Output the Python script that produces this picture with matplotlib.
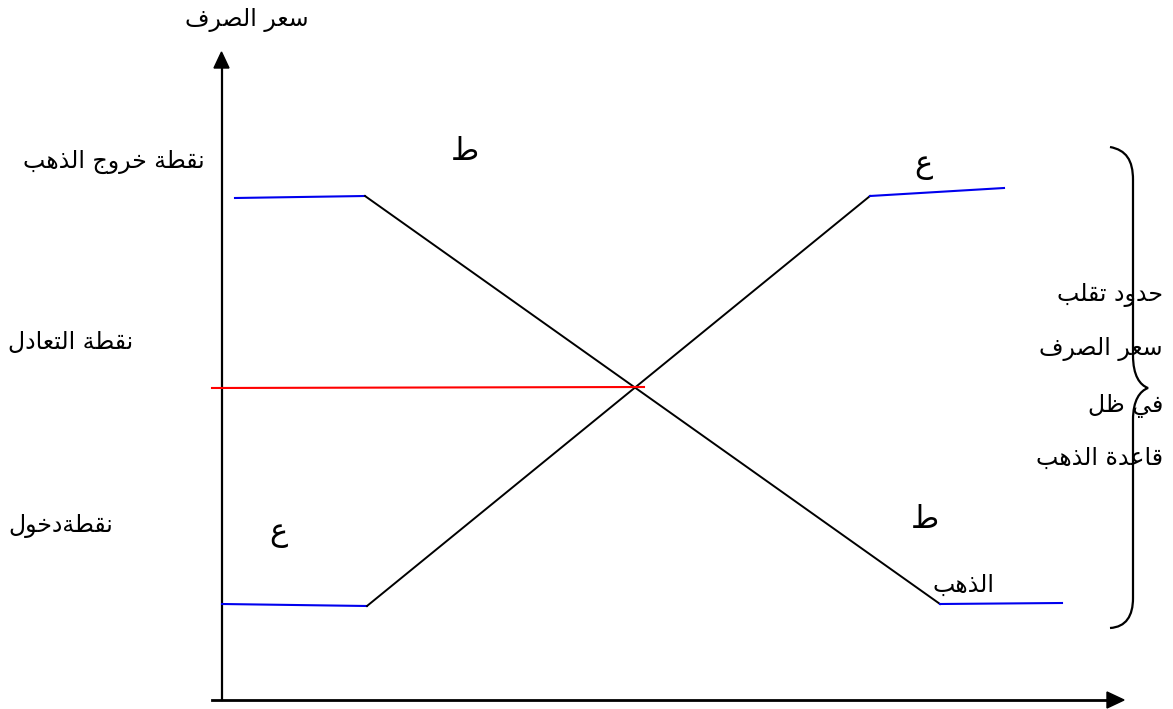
import matplotlib

matplotlib.use("Agg")
import matplotlib.pyplot as plt
from matplotlib.patches import Polygon, PathPatch
from matplotlib.path import Path

# ── diagram data (pixel space of the original sketch) ─────────────────────────
# demand curve "ط": flat (blue) - falling (black) - flat (blue)
demand_x = [235, 365, 940, 1062]
demand_y = [198, 196, 604, 603]
# supply curve "ع": flat (blue) - rising (black) - flat (blue)
supply_x = [222, 367, 870, 1004]
supply_y = [604, 606, 196, 188]
# parity line
parity_x = [212, 644]
parity_y = [388, 387]

y_label = "سعر الصرف"
left_labels = ["نقطة خروج الذهب", "نقطة التعادل", "نقطةدخول"]
left_label_x = [205, 133, 113]
left_label_y = [162, 342, 526]
brace_lines = ["حدود تقلب", "سعر الصرف", "في ظل", "قاعدة الذهب"]
brace_line_y = [295, 349, 406, 458]
curve_letters = ["ط", "ع", "ع", "ط"]
curve_letter_x = [465, 923, 278, 925]
curve_letter_y = [152, 166, 533, 520]
gold_word = "الذهب"

# ── tiny arabic shaper (matplotlib has no text shaping) ───────────────────────
# letter -> (isolated form code point, joins to the following letter)
JOIN = {
    "ا": (0xFE8D, False), "ب": (0xFE8F, True), "ة": (0xFE93, False),
    "ت": (0xFE95, True), "ج": (0xFE9D, True), "ح": (0xFEA1, True),
    "خ": (0xFEA5, True), "د": (0xFEA9, False), "ذ": (0xFEAB, False),
    "ر": (0xFEAD, False), "س": (0xFEB1, True), "ص": (0xFEB9, True),
    "ط": (0xFEC1, True), "ظ": (0xFEC5, True), "ع": (0xFEC9, True),
    "ف": (0xFED1, True), "ق": (0xFED5, True), "ل": (0xFEDD, True),
    "ن": (0xFEE5, True), "ه": (0xFEE9, True), "و": (0xFEED, False),
    "ي": (0xFEF1, True),
}


def ar(text):
    out = []
    for i, ch in enumerate(text):
        if ch not in JOIN:
            out.append(ch)
            continue
        base, dual = JOIN[ch]
        prev = text[i - 1] if i > 0 else ""
        nxt = text[i + 1] if i + 1 < len(text) else ""
        join_prev = prev in JOIN and JOIN[prev][1]
        join_next = dual and nxt in JOIN
        if join_prev and join_next:
            form = 3
        elif join_next:
            form = 2
        elif join_prev:
            form = 1
        else:
            form = 0
        out.append(chr(base + form))
    return "".join(reversed(out))


plt.rcParams["font.family"] = ["DejaVu Sans"]
FS = 17

fig = plt.figure(figsize=(11.73, 7.09), dpi=100)
ax = fig.add_axes([0, 0, 1, 1])
ax.set_xlim(0, 1173)
ax.set_ylim(709, 0)
ax.axis("off")

# axes with arrow heads
ax.plot([221.5, 221.5], [700, 66], color="black", lw=1.6)
ax.add_patch(Polygon([[221.5, 52], [214, 68], [229, 68]], closed=True, color="black"))
ax.plot([212, 1110], [700, 700], color="black", lw=2.0)
ax.add_patch(Polygon([[1124, 700], [1107, 692], [1107, 708]], closed=True, color="black"))

# curves
for xs, ys in [(demand_x, demand_y), (supply_x, supply_y)]:
    ax.plot(xs[0:2], ys[0:2], color="#0000ee", lw=1.5)
    ax.plot(xs[1:3], ys[1:3], color="black", lw=1.4)
    ax.plot(xs[2:4], ys[2:4], color="#0000ee", lw=1.5)
ax.plot(parity_x, parity_y, color="red", lw=1.5)

# right curly brace
verts = [
    (1110, 147), (1126, 150), (1133, 160), (1133, 180),
    (1133, 355),
    (1133, 376), (1140, 385), (1148, 388),
    (1140, 391), (1133, 400), (1133, 420),
    (1133, 598),
    (1133, 616), (1126, 627), (1110, 628),
]
codes = [Path.MOVETO, Path.CURVE4, Path.CURVE4, Path.CURVE4, Path.LINETO,
         Path.CURVE4, Path.CURVE4, Path.CURVE4,
         Path.CURVE4, Path.CURVE4, Path.CURVE4, Path.LINETO,
         Path.CURVE4, Path.CURVE4, Path.CURVE4]
ax.add_patch(PathPatch(Path(verts, codes), fill=False, lw=1.6, color="black"))

# text
ax.text(247, 20, ar(y_label), fontsize=FS, ha="center", va="center")
for lbl, x, y in zip(left_labels, left_label_x, left_label_y):
    ax.text(x, y, ar(lbl), fontsize=FS, ha="right", va="center")
for lbl, y in zip(brace_lines, brace_line_y):
    ax.text(1163, y, ar(lbl), fontsize=FS, ha="right", va="center")
for lbl, x, y in zip(curve_letters, curve_letter_x, curve_letter_y):
    ax.text(x, y, ar(lbl), fontsize=22, ha="center", va="center")
ax.text(964, 585, ar(gold_word), fontsize=FS, ha="center", va="center")

fig.savefig("out.png", dpi=100)
